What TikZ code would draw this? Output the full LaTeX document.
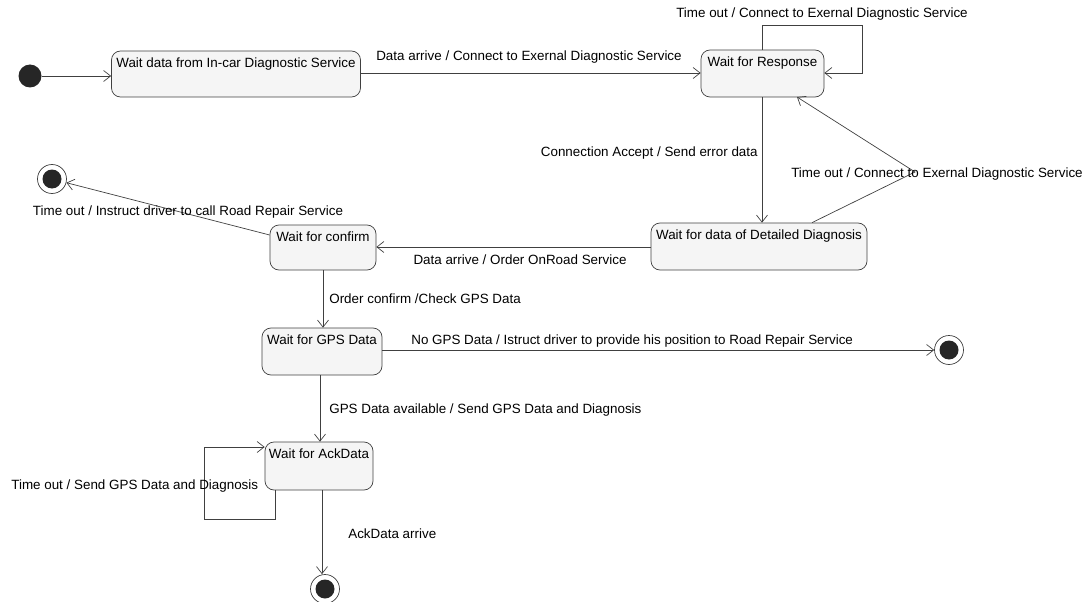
\documentclass[tikz,border=0pt]{standalone}
\usepackage{fontspec}
\setmainfont{Liberation Sans}
\usetikzlibrary{arrows.meta,calc}
\begin{document}
\begin{tikzpicture}[x=1pt,y=-1pt,
  font=\fontsize{13.4}{15}\selectfont,
  line width=0.7pt,
  state/.style={draw=black!75, fill=black!4, rounded corners=9pt, inner sep=0pt},
  stxt/.style={anchor=center, yshift=-13pt, inner sep=0pt, text height=9.5pt, text depth=2.5pt},
  trans/.style={draw=black!75, -{Straight Barb[length=7pt,width=11pt,line width=0.7pt]}},
  lbl/.style={inner sep=1pt, text=black},
  initst/.style={circle, fill=black!85, minimum size=23pt, inner sep=0pt},
  finalst/.style={circle, draw=black!75, fill=white, minimum size=29pt, inner sep=0pt,
    path picture={\fill[black!85] (path picture bounding box.center) circle (9.5pt);}}]
\useasboundingbox (0,0) rectangle (1085,602);

% states
\node[state, minimum width=249pt, minimum height=46pt] (s1) at (236,74) {};
\node[stxt] (t1) at (s1.north) {Wait data from In-car Diagnostic Service};
\node[state, minimum width=123pt, minimum height=47pt] (s2) at (762.5,73.5) {};
\node[stxt] (t2) at (s2.north) {Wait for Response};
\node[state, minimum width=216pt, minimum height=47pt] (s3) at (759,246.5) {};
\node[stxt] (t3) at (s3.north) {Wait for data of Detailed Diagnosis};
\node[state, minimum width=106pt, minimum height=45pt] (s4) at (323,247.5) {};
\node[stxt] (t4) at (s4.north) {Wait for confirm};
\node[state, minimum width=120pt, minimum height=47pt] (s5) at (322,351.5) {};
\node[stxt] (t5) at (s5.north) {Wait for GPS Data};
\node[state, minimum width=108pt, minimum height=48pt] (s6) at (319,466) {};
\node[stxt] (t6) at (s6.north) {Wait for AckData};

% pseudo states
\node[initst] (init) at (30,76) {};
\node[finalst] (f1) at (52,179) {};
\node[finalst] (f2) at (949,350) {};
\node[finalst] (f3) at (325,589) {};

% helper points for bent transitions
\coordinate (l2a) at (762,25);
\coordinate (l2b) at (862,25);
\coordinate (l2c) at (862,73);
\coordinate (b3) at (915,172);
\coordinate (l6a) at (275,519);
\coordinate (l6b) at (204,519);
\coordinate (l6c) at (204,447);

% transitions
\draw[trans] (init.east) -- (init.east -| s1.west);
\draw[trans] (s1.east |- 0,73) -- (s2.west |- 0,73);
\node[lbl] (a12) at (529,57) {Data arrive / Connect to Exernal Diagnostic Service};

\draw[trans] (s2.north -| l2a) -- (l2a) -- (l2b) -- (l2c) -- (s2.east |- l2c);
\node[lbl] (a22) at (822,14) {Time out / Connect to Exernal Diagnostic Service};

\draw[trans] (s2.south -| 762,0) -- (s3.north -| 762,0);
\node[lbl, anchor=east] (a23) at (759,153) {Connection Accept / Send error data};

\draw[trans] (s3.north -| 812,0) -- (b3) -- (797,97);
\node[lbl] (a32) at (937,174) {Time out / Connect to Exernal Diagnostic Service};

\draw[trans] (s3.west |- 0,247) -- (s4.east |- 0,247);
\node[lbl] (a34) at (520,260) {Data arrive / Order OnRoad Service};

\draw[trans] (s4.west |- 0,235) -- (f1);
\node[lbl] (a4f) at (188,212) {Time out / Instruct driver to call Road Repair Service};

\draw[trans] (s4.south) -- (s5.north -| s4.south);
\node[lbl, anchor=west] (a45) at (328,299) {Order confirm /Check GPS Data};

\draw[trans] (s5.east |- 0,350) -- (f2.west |- 0,350);
\node[lbl, anchor=west] (a5f) at (410,341) {No GPS Data / Istruct driver to provide his position to Road Repair Service};

\draw[trans] (s5.south -| 320,0) -- (s6.north -| 320,0);
\node[lbl, anchor=west] (a56) at (328,410) {GPS Data available / Send GPS Data and Diagnosis};

\draw[trans] (s6.south -| l6a) -- (l6a) -- (l6b) -- (l6c) -- (s6.west |- l6c);
\node[lbl, anchor=west] (a66) at (10,486) {Time out / Send GPS Data and Diagnosis};

\draw[trans] (s6.south -| 322,0) -- (f3.north -| 322,0);
\node[lbl, anchor=west] (a6f) at (347,534) {AckData arrive};
\end{tikzpicture}
\end{document}
